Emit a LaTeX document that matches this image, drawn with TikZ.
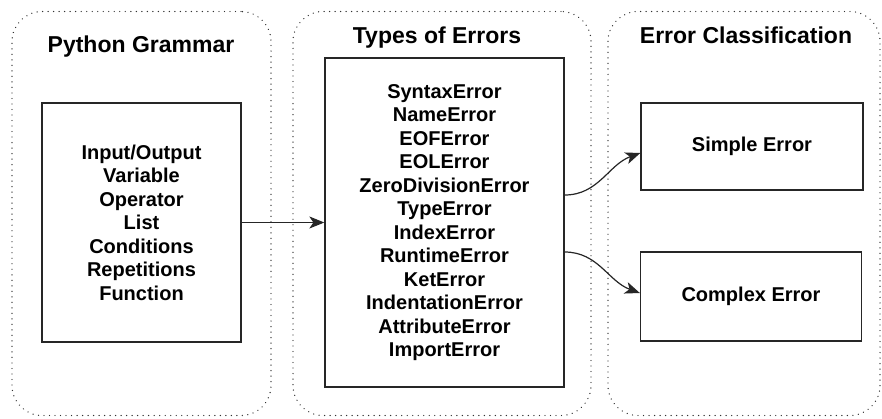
\documentclass[tikz,border=0pt]{standalone}
\usepackage{fontspec}
\setmainfont{Liberation Sans}
\usepackage{tikz}
\usetikzlibrary{arrows.meta, positioning}

\tikzset{
  group/.style={draw=black!80, line width=1.4pt, dash pattern=on 0.01pt off 5.5pt, line cap=round, rounded corners=30pt},
  title/.style={font=\fontsize{23}{27}\selectfont\bfseries, anchor=base},
  box/.style={draw=black!85, line width=1.3pt, align=center, font=\fontsize{20}{23.5}\selectfont\bfseries, inner sep=0pt},
  flow/.style={-{Stealth[length=15pt,width=12pt,inset=4pt]}, line width=1.2pt, black!85}
}

\begin{document}
\begin{tikzpicture}[x=1pt,y=-1pt]
                \useasboundingbox (0,0) rectangle (882,418);

                % Dotted groups
                \node[group, minimum width=259pt, minimum height=404pt] (grpA) at (141.5,213.5) {};
                \node[group, minimum width=298pt, minimum height=404pt] (grpB) at (442,213.5) {};
                \node[group, minimum width=272pt, minimum height=404pt] (grpC) at (744,213.5) {};

                % Group titles
                \node[title] (tA) at (141,52) {Python Grammar};
                \node[title] (tB) at (437,43) {Types of Errors};
                \node[title] (tC) at (746,43) {Error Classification};

                % Boxes
                \node[box, minimum width=199pt, minimum height=239pt] (grammar) at (141.5,222.5)
                  {Input/Output\\Variable\\Operator\\List\\Conditions\\Repetitions\\Function};
                \node[box, minimum width=239pt, minimum height=329pt] (errors) at (444.5,222.5)
                  {SyntaxError\\NameError\\EOFError\\EOLError\\ZeroDivisionError\\TypeError\\IndexError\\RuntimeError\\KetError\\IndentationError\\AttributeError\\ImportError};
                \node[box, minimum width=222pt, minimum height=87pt] (simple) at (752,146.5) {Simple Error};
                \node[box, minimum width=221pt, minimum height=89pt] (complex) at (751,296.5) {Complex Error};

                % Connectors
                \draw[flow] (grammar) -- (errors);
                \draw[flow] ([yshift=27.5pt]errors.east) to[out=0,in=200] ([yshift=-6.5pt]simple.west);
                \draw[flow] ([yshift=-29.5pt]errors.east) to[out=0,in=160] ([yshift=3.5pt]complex.west);
            \end{tikzpicture}
\end{document}
